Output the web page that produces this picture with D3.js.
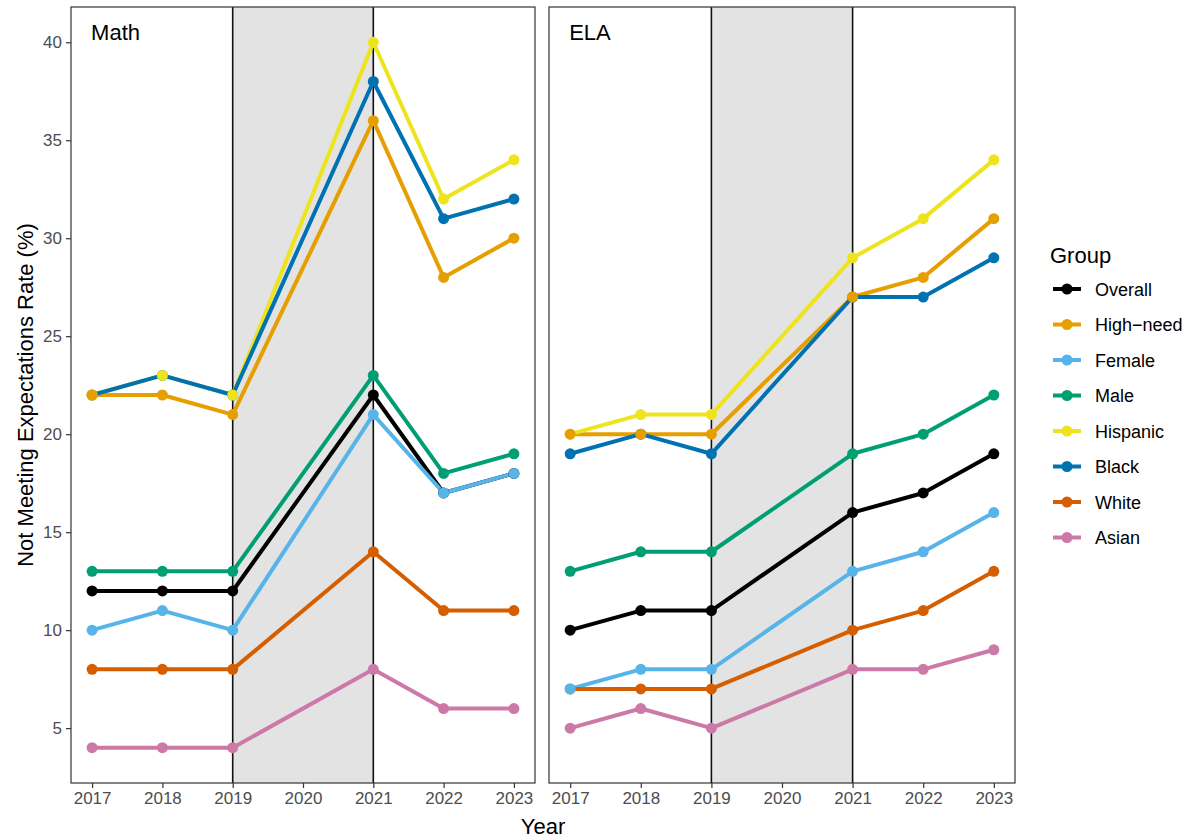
<!DOCTYPE html>
<html>
<head>
<meta charset="utf-8">
<script src="https://cdn.jsdelivr.net/npm/d3@7"></script>
<style>
    body { margin: 0; background: #fff; }
    svg text { font-family: Arial, "Liberation Sans", sans-serif; }
</style>
</head>
<body>
<svg id="chart" width="1192" height="838"></svg>
<script>
(function () {
    "use strict";

    const years = [2017, 2018, 2019, 2021, 2022, 2023];
    const yearTicks = [2017, 2018, 2019, 2020, 2021, 2022, 2023];
    const yTicks = [5, 10, 15, 20, 25, 30, 35, 40];
    const subjects = ["Math", "ELA"];
    const groups = ["Overall", "High\u2212need", "Female", "Male", "Hispanic", "Black", "White", "Asian"];
    const groupColors = ["#000000", "#E69F00", "#56B4E9", "#009E73", "#EEE41E", "#0072B2", "#D55E00", "#CC79A7"];

    const mathOverall = [12, 12, 12, 22, 17, 18];
    const mathHighNeed = [22, 22, 21, 36, 28, 30];
    const mathFemale = [10, 11, 10, 21, 17, 18];
    const mathMale = [13, 13, 13, 23, 18, 19];
    const mathHispanic = [22, 23, 22, 40, 32, 34];
    const mathBlack = [22, 23, 22, 38, 31, 32];
    const mathWhite = [8, 8, 8, 14, 11, 11];
    const mathAsian = [4, 4, 4, 8, 6, 6];

    const elaOverall = [10, 11, 11, 16, 17, 19];
    const elaHighNeed = [20, 20, 20, 27, 28, 31];
    const elaFemale = [7, 8, 8, 13, 14, 16];
    const elaMale = [13, 14, 14, 19, 20, 22];
    const elaHispanic = [20, 21, 21, 29, 31, 34];
    const elaBlack = [19, 20, 19, 27, 27, 29];
    const elaWhite = [7, 7, 7, 10, 11, 13];
    const elaAsian = [5, 6, 5, 8, 8, 9];

    const covidPeriod = [2019, 2021];

    const seriesBySubject = {
        Math: [mathOverall, mathHighNeed, mathFemale, mathMale, mathHispanic, mathBlack, mathWhite, mathAsian],
        ELA: [elaOverall, elaHighNeed, elaFemale, elaMale, elaHispanic, elaBlack, elaWhite, elaAsian]
    };

    // drawing order of the point layer (later = on top)
    const pointOrder = [0, 7, 6, 5, 4, 3, 2, 1];

    const color = d3.scaleOrdinal().domain(groups).range(groupColors);

    const svg = d3.select("#chart");
    const top = 7, bottom = 783;
    const panels = [{ x0: 71, x1: 535 }, { x0: 549, x1: 1015 }];
    const tickFont = 17;

    const yScale = d3.scaleLinear()
        .domain([2.2, 41.8])
        .range([bottom, top]);

    subjects.forEach(function (subject, i) {
        const p = panels[i];
        const xScale = d3.scaleLinear()
            .domain([2016.7, 2023.3])
            .range([p.x0, p.x1]);

        const g = svg.append("g");

        g.append("rect")
            .attr("x", xScale(covidPeriod[0]))
            .attr("y", top)
            .attr("width", xScale(covidPeriod[1]) - xScale(covidPeriod[0]))
            .attr("height", bottom - top)
            .attr("fill", "#e3e3e3");

        covidPeriod.forEach(function (yr) {
            g.append("line")
                .attr("x1", xScale(yr)).attr("x2", xScale(yr))
                .attr("y1", top).attr("y2", bottom)
                .attr("stroke", "#111")
                .attr("stroke-width", 1.6);
        });

        const rows = seriesBySubject[subject].map(function (vals, k) {
            return { group: groups[k], values: vals.map(function (v, j) { return { year: years[j], value: v }; }) };
        });

        const line = d3.line()
            .x(function (d) { return xScale(d.year); })
            .y(function (d) { return yScale(d.value); });

        g.selectAll("path.series")
            .data(rows)
            .join("path")
            .attr("class", "series")
            .attr("d", function (d) { return line(d.values); })
            .attr("fill", "none")
            .attr("stroke", function (d) { return color(d.group); })
            .attr("stroke-width", 4)
            .attr("stroke-linejoin", "round");

        pointOrder.forEach(function (k) {
            g.selectAll(null)
                .data(rows[k].values)
                .join("circle")
                .attr("cx", function (d) { return xScale(d.year); })
                .attr("cy", function (d) { return yScale(d.value); })
                .attr("r", 5.5)
                .attr("fill", color(rows[k].group));
        });

        g.append("rect")
            .attr("x", p.x0).attr("y", top)
            .attr("width", p.x1 - p.x0).attr("height", bottom - top)
            .attr("fill", "none")
            .attr("stroke", "#333")
            .attr("stroke-width", 1.2);

        g.append("text")
            .attr("x", xScale(2017) - 1)
            .attr("y", 40)
            .attr("font-size", 22)
            .attr("fill", "#000")
            .text(subject);

        const xAxis = g.append("g")
            .attr("transform", "translate(0," + bottom + ")")
            .call(d3.axisBottom(xScale).tickValues(yearTicks).tickFormat(d3.format("d")).tickSize(5).tickPadding(4));
        xAxis.select(".domain").remove();
        xAxis.selectAll(".tick line").attr("stroke", "#333").attr("stroke-width", 1.2);
        xAxis.selectAll(".tick text").attr("fill", "#4d4d4d").attr("font-size", tickFont)
            .style("font-family", "Arial, 'Liberation Sans', sans-serif");

        if (i === 0) {
            const yAxis = g.append("g")
                .attr("transform", "translate(" + p.x0 + ",0)")
                .call(d3.axisLeft(yScale).tickValues(yTicks).tickSize(5).tickPadding(4));
            yAxis.select(".domain").remove();
            yAxis.selectAll(".tick line").attr("stroke", "#333").attr("stroke-width", 1.2);
            yAxis.selectAll(".tick text").attr("fill", "#4d4d4d").attr("font-size", tickFont)
                .style("font-family", "Arial, 'Liberation Sans', sans-serif");
        }
    });

    svg.append("text")
        .attr("transform", "translate(33," + (top + bottom) / 2 + ") rotate(-90)")
        .attr("text-anchor", "middle")
        .attr("font-size", 22)
        .text("Not Meeting Expectations Rate (%)");

    svg.append("text")
        .attr("x", (panels[0].x0 + panels[1].x1) / 2)
        .attr("y", 834)
        .attr("text-anchor", "middle")
        .attr("font-size", 22)
        .text("Year");

    // legend
    const legend = svg.append("g").attr("transform", "translate(1050,0)");
    legend.append("text")
        .attr("x", 0).attr("y", 263)
        .attr("font-size", 22)
        .text("Group");

    const item = legend.selectAll("g.item")
        .data(groups)
        .join("g")
        .attr("class", "item")
        .attr("transform", function (d, k) { return "translate(0," + (289 + k * 35.5) + ")"; });

    item.append("line")
        .attr("x1", 3).attr("x2", 31)
        .attr("stroke", function (d) { return color(d); })
        .attr("stroke-width", 4);
    item.append("circle")
        .attr("cx", 17).attr("r", 5.5)
        .attr("fill", function (d) { return color(d); });
    item.append("text")
        .attr("x", 45).attr("y", 6.5)
        .attr("font-size", 18)
        .text(function (d) { return d; });
}());
</script>
</body>
</html>
